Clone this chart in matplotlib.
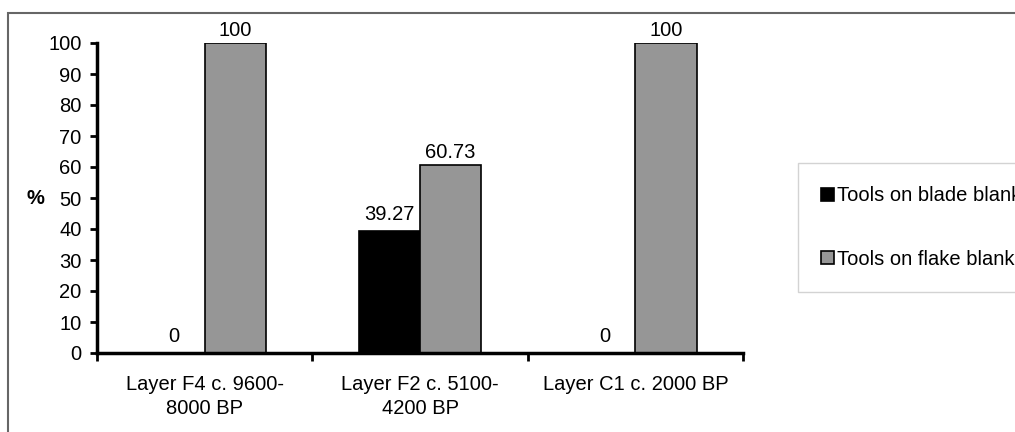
import matplotlib
matplotlib.use("Agg")
import matplotlib.pyplot as plt
from matplotlib.patches import Rectangle
import numpy as np

plt.rcParams['font.family'] = ['Liberation Sans', 'DejaVu Sans']

categories = ["Layer F4 c. 9600-\n8000 BP", "Layer F2 c. 5100-\n4200 BP", "Layer C1 c. 2000 BP"]
blade = [0, 39.27, 0]
flake = [100, 60.73, 100]
blade_labels = ["0", "39.27", "0"]
flake_labels = ["100", "60.73", "100"]
series_names = ["Tools on blade blank", "Tools on flake blank"]
yticks = list(range(0, 101, 10))

W, H = 1015, 432
fig = plt.figure(figsize=(W/100, H/100), dpi=100)
fig.patch.set_facecolor('white')

# outer chart frame
fig.add_artist(Rectangle((8/W, -0.1), 1.2, (H-13)/H + 0.1, transform=fig.transFigure,
                         fill=False, edgecolor='#666666', linewidth=1.5))

ax = fig.add_axes([97/W, 1-353/H, (743-97)/W, (353-43)/H])
x = np.arange(len(categories))
bw = 0.285
b1 = ax.bar(x - bw/2, blade, bw, color='black', edgecolor='black', linewidth=1.2, label=series_names[0])
b2 = ax.bar(x + bw/2, flake, bw, color='#969696', edgecolor='black', linewidth=1.2, label=series_names[1])

fs = 14.5
for xi, v, t in zip(x - bw/2, blade, blade_labels):
    ax.annotate(t, (xi, v), xytext=(0, 5), textcoords='offset points', ha='center', va='bottom', fontsize=fs)
for xi, v, t in zip(x + bw/2, flake, flake_labels):
    ax.annotate(t, (xi, v), xytext=(0, 2), textcoords='offset points', ha='center', va='bottom', fontsize=fs,
                annotation_clip=False)

ax.set_xlim(-0.5, 2.5)
ax.set_ylim(0, 100)
ax.set_yticks(yticks)
ax.tick_params(axis='y', labelsize=fs, direction='out', length=5, width=2, pad=6)
ax.set_xticks([-0.5, 0.5, 1.5, 2.5])
ax.set_xticklabels([])
ax.tick_params(axis='x', which='major', direction='out', length=6, width=2)
ax.set_xticks(x, minor=True)
ax.set_xticklabels(categories, minor=True, fontsize=fs, linespacing=1.35)
ax.tick_params(axis='x', which='minor', length=0, pad=16)

for s in ['top', 'right']:
    ax.spines[s].set_visible(False)
for s in ['left', 'bottom']:
    ax.spines[s].set_linewidth(2.5)

ax.set_ylabel('%', rotation=0, fontsize=fs, fontweight='bold', va='center', ha='center')
ax.yaxis.set_label_coords((35-97)/646, 0.5)

leg = fig.legend(handles=[b1, b2], labels=series_names, loc='center left',
                 bbox_to_anchor=(798/W, 1-227.5/H), frameon=True, fancybox=False,
                 edgecolor='#c8c8c8', fontsize=fs, handlelength=0.65, handleheight=0.65,
                 handletextpad=0.15, labelspacing=2.2, borderpad=1.15, borderaxespad=0)
leg.get_frame().set_linewidth(1.0)

fig.savefig('out.png', dpi=100)
